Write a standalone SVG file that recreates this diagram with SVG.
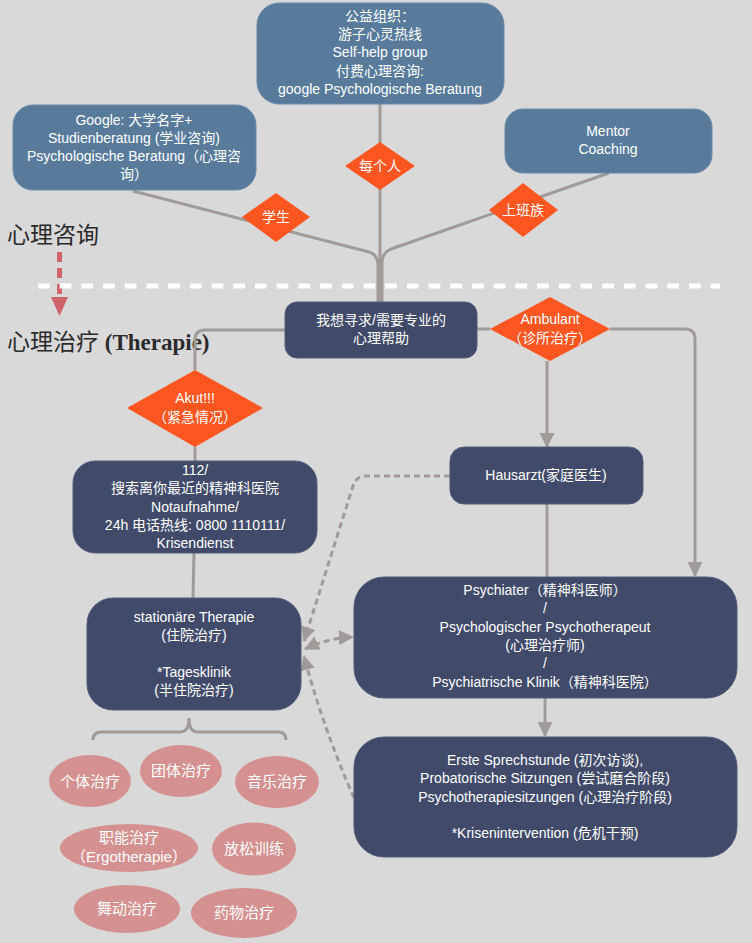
<svg xmlns="http://www.w3.org/2000/svg" width="752" height="943" viewBox="0 0 752 943">
<defs>
<style>
.bg{fill:#d9d9d9}
.blue{fill:#587b9c;stroke:#6a8baa;stroke-width:1}
.dark{fill:#414a69;stroke:#535c7a;stroke-width:1}
.dia{fill:#fe5621}
.pink{fill:#d4918f}
.t{font-family:"Liberation Sans","Noto Sans CJK SC",sans-serif;font-size:14px;fill:#ffffff;text-anchor:middle;dominant-baseline:central}
.td{font-family:"Liberation Sans","Noto Sans CJK SC",sans-serif;font-size:14px;fill:#ffffff;text-anchor:middle;dominant-baseline:central}
.te{font-family:"Liberation Sans","Noto Sans CJK SC",sans-serif;font-size:15px;fill:#ffffff;text-anchor:middle;dominant-baseline:central}
.title{font-family:"Liberation Serif","Noto Sans CJK SC",serif;font-size:23px;fill:#2b2b2b}
.c{fill:none;stroke:#a09a99;stroke-width:3}
.cd{fill:none;stroke:#a09a99;stroke-width:3;stroke-dasharray:6 4}
</style>
<marker id="ah" markerWidth="15" markerHeight="15" refX="14" refY="7.5" orient="auto" markerUnits="userSpaceOnUse">
<path d="M0,0 L15,7.5 L0,15 z" fill="#a09a99"/>
</marker>
<marker id="ahs" markerWidth="15" markerHeight="15" refX="14" refY="7.5" orient="auto-start-reverse" markerUnits="userSpaceOnUse">
<path d="M0,0 L15,7.5 L0,15 z" fill="#a09a99"/>
</marker>
</defs>
<rect class="bg" x="0" y="0" width="752" height="943"/>

<g id="section-labels">
<text class="title" x="7" y="243">心理咨询</text>
<text class="title" x="7" y="350">心理治疗 <tspan font-weight="bold">(Therapie)</tspan></text>
<line x1="59.5" y1="252" x2="59.5" y2="298" stroke="#cf646a" stroke-width="5" stroke-dasharray="10 6"/>
<polygon points="51,297 68,297 59.5,316" fill="#cf646a"/>
<line x1="38" y1="286" x2="720" y2="286" stroke="#ffffff" stroke-width="5" stroke-dasharray="11.7 10"/>
</g>

<g id="connectors">
<path class="c" d="M380,104 L380,302"/>
<path class="c" d="M133,191 L369,252 Q378,255 378,265 L378,302"/>
<path class="c" d="M609,173 L391,249 Q382,253 382,263 L382,302"/>
<path class="c" d="M285,330 L205,330 Q195,330 195,340 L195,370"/>
<path class="c" d="M195,447 L195,461"/>
<path class="c" d="M194,553 L193,598"/>
<path class="c" d="M477,329 L490,329"/>
<path class="c" d="M610,329 L685,329 Q695,329 695,339 L695,576" marker-end="url(#ah)"/>
<path class="c" d="M547,361 L547,447" marker-end="url(#ah)"/>
<path class="c" d="M547,504 L547,578"/>
<path class="c" d="M545,698 L545,736" marker-end="url(#ah)"/>
<path class="cd" d="M450,476 L366,476 Q356,476 353,486 L304,641" marker-end="url(#ah)"/>
<path class="cd" d="M305,649 Q328,638 353,637" marker-start="url(#ahs)" marker-end="url(#ah)"/>
<path class="cd" d="M354,798 Q322,725 304,656" marker-end="url(#ah)"/>
<path class="c" d="M93,740 Q93,732 101,732 L180,732 Q189,732 189,718 Q189,732 198,732 L278,732 Q286,732 286,740"/>
</g>

<g id="node-gongyi">
<rect class="blue" x="257" y="3" width="247" height="101" rx="22"/>
<text class="t" x="380" y="16">公益组织：</text>
<text class="t" x="380" y="34">游子心灵热线</text>
<text class="t" x="380" y="52">Self-help group</text>
<text class="t" x="380" y="71">付费心理咨询:</text>
<text class="t" x="380" y="89">google Psychologische Beratung</text>
</g>

<g id="node-google">
<rect class="blue" x="13" y="105" width="243" height="85" rx="20"/>
<text class="t" x="134" y="120">Google: 大学名字+</text>
<text class="t" x="134" y="138">Studienberatung (学业咨询)</text>
<text class="t" x="134" y="156">Psychologische Beratung（心理咨</text>
<text class="t" x="134" y="174">询）</text>
</g>

<g id="node-mentor">
<rect class="blue" x="505" y="109" width="207" height="64" rx="18"/>
<text class="t" x="608" y="131">Mentor</text>
<text class="t" x="608" y="149">Coaching</text>
</g>

<g id="node-meigeren">
<polygon class="dia" points="345,166 380,142 415,166 380,190"/>
<text class="td" x="380" y="166">每个人</text>
</g>

<g id="node-xuesheng">
<polygon class="dia" points="242,217 276,193 310,217 276,242"/>
<text class="td" x="276" y="217">学生</text>
</g>

<g id="node-shangbanzu">
<polygon class="dia" points="489,210 523,183 558,210 523,237"/>
<text class="td" x="523" y="210">上班族</text>
</g>

<g id="node-help">
<rect class="dark" x="285" y="302" width="192" height="56" rx="12"/>
<text class="t" x="381" y="320">我想寻求/需要专业的</text>
<text class="t" x="381" y="338">心理帮助</text>
</g>

<g id="node-ambulant">
<polygon class="dia" points="490,329 550,297 610,329 550,361"/>
<text class="td" x="550" y="319">Ambulant</text>
<text class="td" x="550" y="338">（诊所治疗）</text>
</g>

<g id="node-akut">
<polygon class="dia" points="127,408 195,370 263,408 195,447"/>
<text class="td" x="195" y="398">Akut!!!</text>
<text class="td" x="195" y="417">（紧急情况）</text>
</g>

<g id="node-112">
<rect class="dark" x="73" y="461" width="244" height="92" rx="22"/>
<text class="t" x="195" y="470">112/</text>
<text class="t" x="195" y="488">搜索离你最近的精神科医院</text>
<text class="t" x="195" y="507">Notaufnahme/</text>
<text class="t" x="195" y="525">24h 电话热线: 0800 1110111/</text>
<text class="t" x="195" y="543">Krisendienst</text>
</g>

<g id="node-hausarzt">
<rect class="dark" x="450" y="447" width="193" height="57" rx="14"/>
<text class="t" x="546" y="475">Hausarzt(家庭医生)</text>
</g>

<g id="node-stationaer">
<rect class="dark" x="87" y="598" width="214" height="112" rx="26"/>
<text class="t" x="194" y="617">stationäre Therapie</text>
<text class="t" x="194" y="635">(住院治疗)</text>
<text class="t" x="194" y="672">*Tagesklinik</text>
<text class="t" x="194" y="690">(半住院治疗)</text>
</g>

<g id="node-psychiater">
<rect class="dark" x="354" y="577" width="383" height="121" rx="30"/>
<text class="t" x="545" y="590">Psychiater（精神科医师）</text>
<text class="t" x="545" y="608">/</text>
<text class="t" x="545" y="627">Psychologischer Psychotherapeut</text>
<text class="t" x="545" y="645">(心理治疗师)</text>
<text class="t" x="545" y="663">/</text>
<text class="t" x="545" y="682">Psychiatrische Klinik（精神科医院）</text>
</g>

<g id="node-erste">
<rect class="dark" x="354" y="737" width="383" height="120" rx="30"/>
<text class="t" x="545" y="760">Erste Sprechstunde (初次访谈),</text>
<text class="t" x="545" y="778">Probatorische Sitzungen (尝试磨合阶段)</text>
<text class="t" x="545" y="797">Psychotherapiesitzungen (心理治疗阶段)</text>
<text class="t" x="545" y="833">*Krisenintervention (危机干预)</text>
</g>

<g id="node-geti">
<ellipse class="pink" cx="90" cy="781" rx="41" ry="26"/>
<text class="te" x="90" y="781">个体治疗</text>
</g>
<g id="node-tuanti">
<ellipse class="pink" cx="181" cy="771" rx="41" ry="26"/>
<text class="te" x="181" y="770">团体治疗</text>
</g>
<g id="node-yinyue">
<ellipse class="pink" cx="277" cy="782" rx="42" ry="26"/>
<text class="te" x="277" y="781">音乐治疗</text>
</g>
<g id="node-zhineng">
<ellipse class="pink" cx="129" cy="848" rx="69" ry="24"/>
<text class="te" x="129" y="837">职能治疗</text>
<text class="te" x="129" y="856">（Ergotherapie）</text>
</g>
<g id="node-fangsong">
<ellipse class="pink" cx="254" cy="849" rx="42" ry="26.5"/>
<text class="te" x="254" y="848">放松训练</text>
</g>
<g id="node-wudong">
<ellipse class="pink" cx="127" cy="909" rx="53" ry="24"/>
<text class="te" x="127" y="908">舞动治疗</text>
</g>
<g id="node-yaowu">
<ellipse class="pink" cx="244" cy="913" rx="53" ry="25"/>
<text class="te" x="244" y="912">药物治疗</text>
</g>
</svg>
